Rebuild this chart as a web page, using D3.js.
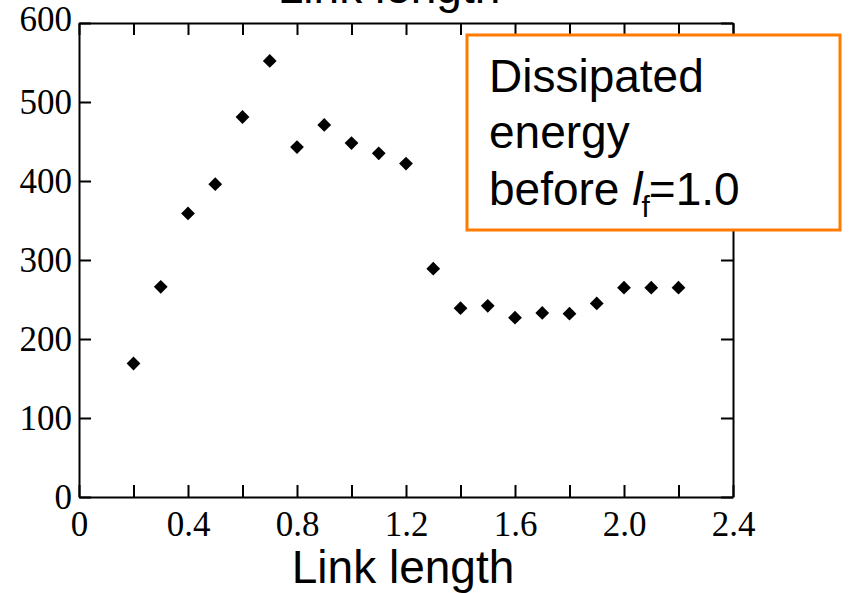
<!DOCTYPE html>
<html>
  <head>
    <meta charset="utf-8">
    <style>
    body { margin: 0; background: #fff; }
    svg { display: block; }
    .tick text { font-family: "Liberation Serif", "Times New Roman", serif; font-size: 35px; fill: #000; }
    .domain, .tick line { stroke: #000; stroke-width: 2px; }
    .title { font-family: "Liberation Sans", Arial, sans-serif; font-size: 46px; fill: #000; }
    </style>
  </head>
  <body>
    <div id="chart"></div>
    <script src="https://d3js.org/d3.v7.min.js"></script>
    <script>

// link length vs dissipated energy
var linkLength = [0.2, 0.3, 0.4, 0.5, 0.6, 0.7, 0.8, 0.9, 1.0, 1.1, 1.2,
                  1.3, 1.4, 1.5, 1.6, 1.7, 1.8, 1.9, 2.0, 2.1, 2.2];
var energy = [169, 266, 359, 396, 481, 552, 443, 471, 448, 435, 422,
              289, 239, 242, 227, 233, 232, 245, 265, 265, 265];

var xTicks = [0, 0.2, 0.4, 0.6, 0.8, 1.0, 1.2, 1.4, 1.6, 1.8, 2.0, 2.2, 2.4];
var xLabels = ["0", "", "0.4", "", "0.8", "", "1.2", "", "1.6", "", "2.0", "", "2.4"];
var yTicks = [0, 100, 200, 300, 400, 500, 600];

var width = 849, height = 593;
var margin = {top: 23, right: 116, bottom: 96, left: 79};

var svg = d3.select("#chart").append("svg")
    .attr("width", width)
    .attr("height", height);

var x = d3.scaleLinear()
    .domain([0, 2.4])
    .range([margin.left, width - margin.right]);

var y = d3.scaleLinear()
    .domain([0, 600])
    .range([height - margin.bottom, margin.top]);

// bottom axis
var gx = svg.append("g")
    .attr("transform", "translate(0," + y(0) + ")")
    .call(d3.axisBottom(x)
      .tickValues(xTicks)
      .tickSizeInner(-12)
      .tickSizeOuter(0)
      .tickPadding(0)
      .tickFormat(function(d, i){ return xLabels[i]; }));
gx.selectAll(".tick text").attr("dy", null).attr("y", 39);

// top axis
svg.append("g")
    .attr("transform", "translate(0," + y(600) + ")")
    .call(d3.axisTop(x)
      .tickValues(xTicks)
      .tickSizeInner(-12)
      .tickSizeOuter(0)
      .tickFormat(""));

// left axis
var gy = svg.append("g")
    .attr("transform", "translate(" + x(0) + ",0)")
    .call(d3.axisLeft(y)
      .tickValues(yTicks)
      .tickSizeInner(-12)
      .tickSizeOuter(0)
      .tickFormat(d3.format("d")));
gy.selectAll(".tick text").attr("x", -7);
gy.select(".tick:last-of-type text").attr("dy", "0.2em");

// right axis
svg.append("g")
    .attr("transform", "translate(" + x(2.4) + ",0)")
    .call(d3.axisRight(y)
      .tickValues(yTicks)
      .tickSizeInner(-12)
      .tickSizeOuter(0)
      .tickFormat(""));

// points
var diamond = d3.symbol().type(d3.symbolSquare).size(95);
svg.selectAll(".pt")
    .data(linkLength)
  .enter().append("path")
    .attr("class", "pt")
    .attr("d", diamond)
    .attr("transform", function(d, i){
      return "translate(" + x(d) + "," + y(energy[i]) + ") rotate(45)";
    })
    .style("fill", "#000");

// axis title (and the clipped copy at the top)
svg.append("text")
    .attr("class", "title")
    .attr("x", 403)
    .attr("y", 583)
    .attr("text-anchor", "middle")
    .text("Link length");

svg.append("text")
    .attr("class", "title")
    .attr("x", 389)
    .attr("y", 3)
    .attr("text-anchor", "middle")
    .text("Link length");

// annotation box
svg.append("rect")
    .attr("x", 467)
    .attr("y", 35)
    .attr("width", 373)
    .attr("height", 195)
    .style("fill", "#fff")
    .style("stroke", "#ff7a00")
    .style("stroke-width", 3);

var note = svg.append("g");
note.append("text").attr("class", "title").attr("x", 489).attr("y", 92).text("Dissipated");
note.append("text").attr("class", "title").attr("x", 489).attr("y", 148).text("energy");
var last = note.append("text").attr("class", "title").attr("x", 489).attr("y", 205);
last.append("tspan").text("before ");
last.append("tspan").style("font-style", "italic").text("l");
last.append("tspan").attr("dy", 12).attr("dx", -1).style("font-size", "30px").text("f");
last.append("tspan").attr("dy", -12).attr("dx", -1).text("=1.0");

    </script>
  </body>
</html>
